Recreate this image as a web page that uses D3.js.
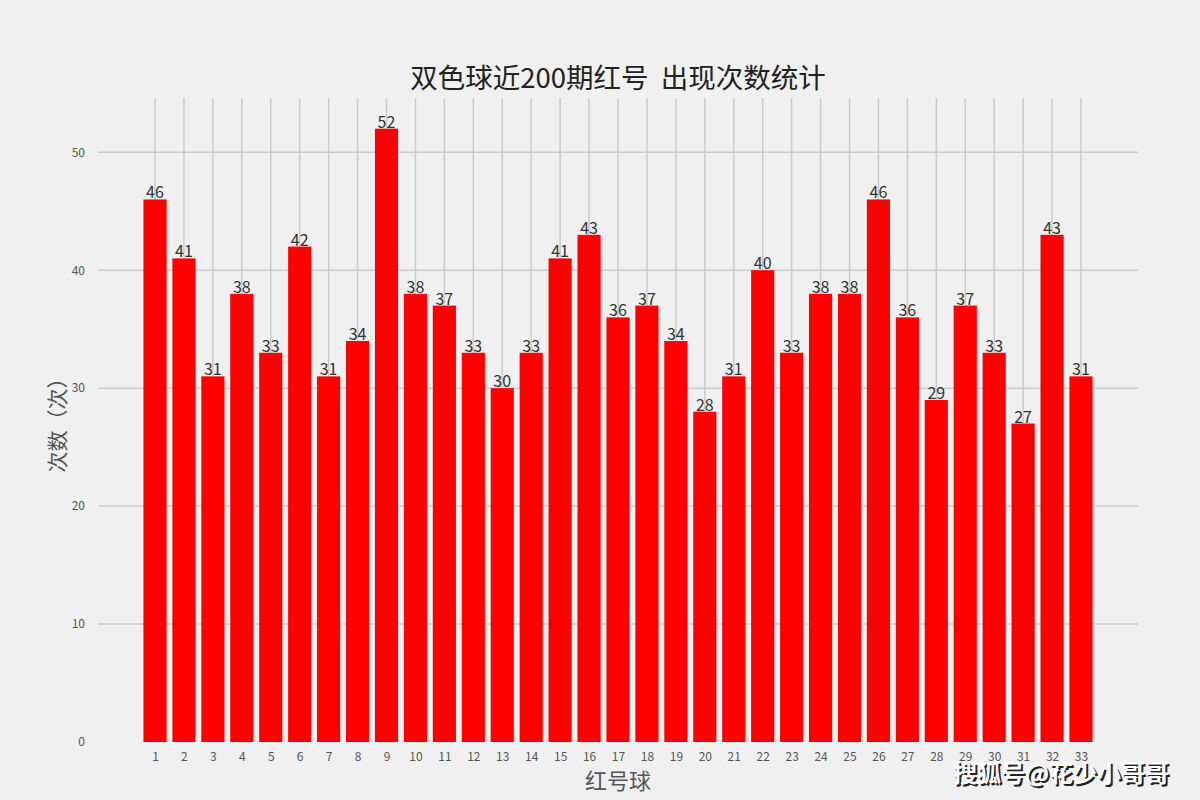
<!DOCTYPE html>
<html><head><meta charset="utf-8">
<script src="https://cdn.jsdelivr.net/npm/d3@7"></script>
<style>
html,body{margin:0;padding:0;background:#f0f0f0;}
svg{display:block;}
</style></head>
<body>
<svg id="chart" width="1200" height="800"></svg>
<script>
const balls = d3.range(1, 34);
const counts = [46,41,31,38,33,42,31,34,52,38,37,33,30,33,41,43,36,37,34,28,31,40,33,38,38,46,36,29,37,33,27,43,31];
const yTicks = [0,10,20,30,40,50];
const titleText = "双色球近200期红号  出现次数统计";
const xLabel = "红号球";
const yLabel = "次数（次）";
const watermark = "搜狐号@花少小哥哥";

(function () {
const W = 1200, H = 800;
const pLeft = 98, pRight = 1138, pTop = 98, pBottom = 742;
const font = "'Noto Sans CJK SC','DejaVu Sans',sans-serif";

const svg = d3.select("#chart");
svg.append("rect").attr("width", W).attr("height", H).attr("fill", "#f0f0f0");

const x = d3.scaleLinear().domain([-0.97, 34.97]).range([pLeft, pRight]);
const y = d3.scaleLinear().domain([0, 54.6]).range([pBottom, pTop]);
const barW = 0.8;

// grid
const grid = svg.append("g");
grid.selectAll("line.h").data(yTicks.filter(d => d > 0)).enter().append("line")
  .attr("x1", pLeft).attr("x2", pRight)
  .attr("y1", d => y(d)).attr("y2", d => y(d))
  .attr("stroke", "#cbcbcb").attr("stroke-width", 1.5);
grid.selectAll("line.v").data(balls).enter().append("line")
  .attr("x1", d => x(d)).attr("x2", d => x(d))
  .attr("y1", pTop).attr("y2", pBottom)
  .attr("stroke", "#cbcbcb").attr("stroke-width", 1.5);

// bars
svg.append("g").selectAll("rect").data(counts).enter().append("rect")
  .attr("x", (d, i) => x(balls[i] - barW / 2))
  .attr("width", (d, i) => x(balls[i] + barW / 2) - x(balls[i] - barW / 2))
  .attr("y", d => y(d))
  .attr("height", d => y(0) - y(d))
  .attr("fill", "#ff0000");

// value labels
svg.append("g").selectAll("text").data(counts).enter().append("text")
  .attr("x", (d, i) => x(balls[i]))
  .attr("y", d => y(d) - 1)
  .attr("text-anchor", "middle")
  .attr("font-family", font).attr("font-size", 16)
  .attr("fill", "#333")
  .text(d => d);

// axes
const xAxis = d3.axisBottom(x).tickValues(balls).tickSize(0).tickPadding(10).tickFormat(d3.format("d"));
const gx = svg.append("g").attr("transform", `translate(0,${pBottom})`).call(xAxis);
gx.select(".domain").remove();
gx.selectAll("text").attr("font-family", font).attr("font-size", 12).attr("fill", "#555");

const yAxis = d3.axisLeft(y).tickValues(yTicks).tickSize(0).tickPadding(13).tickFormat(d3.format("d"));
const gy = svg.append("g").attr("transform", `translate(${pLeft},0)`).call(yAxis);
gy.select(".domain").remove();
gy.selectAll("text").attr("font-family", font).attr("font-size", 12).attr("fill", "#555");

// title
svg.append("text").attr("x", (pLeft + pRight) / 2).attr("y", 88)
  .attr("text-anchor", "middle").attr("font-family", font).attr("font-size", 27.5)
  .attr("fill", "#222").style("white-space", "pre")
  .text(titleText);

// axis labels
svg.append("text").attr("x", (pLeft + pRight) / 2).attr("y", 789)
  .attr("text-anchor", "middle").attr("font-family", font).attr("font-size", 22)
  .attr("fill", "#555").text(xLabel);
svg.append("text").attr("transform", `translate(65,${(pTop + pBottom) / 2}) rotate(-90)`)
  .attr("text-anchor", "middle").attr("font-family", font).attr("font-size", 21)
  .attr("fill", "#555").text(yLabel);

// watermark
const wm = svg.append("g");
wm.append("text").attr("x", 1063).attr("y", 784).attr("text-anchor", "middle")
  .attr("font-family", font).attr("font-size", 24).attr("font-weight", "bold")
  .attr("fill", "#222").text(watermark);
wm.append("text").attr("x", 1061).attr("y", 782).attr("text-anchor", "middle")
  .attr("font-family", font).attr("font-size", 24).attr("font-weight", "bold")
  .attr("fill", "#fff").text(watermark);
})();
</script>
</body></html>
